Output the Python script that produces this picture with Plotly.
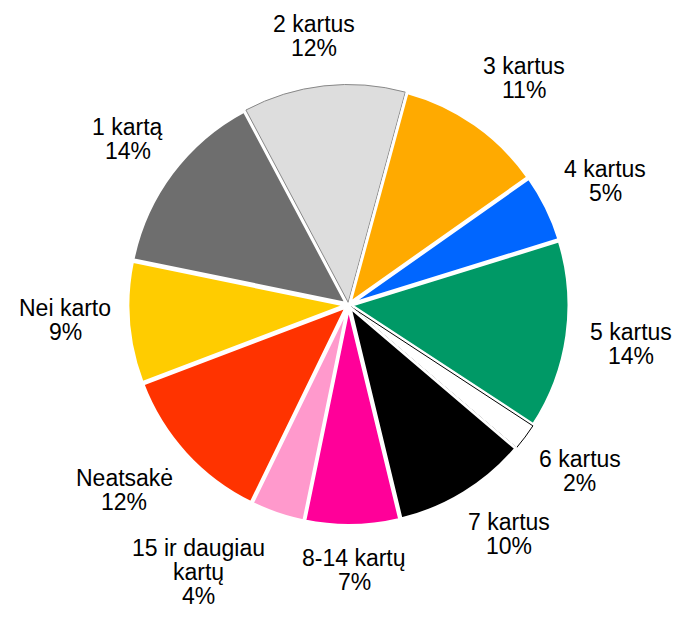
import math
import plotly.graph_objects as go

labels = ["Nei karto", "1 kartą", "2 kartus", "3 kartus", "4 kartus", "5 kartus",
          "6 kartus", "7 kartus", "8-14 kartų", "15 ir daugiau<br>kartų", "Neatsakė"]
values = [9, 14, 12, 11, 5, 14, 2, 10, 7, 4, 12]
colors = ["#FFCC00", "#6E6E6E", "#DDDDDD", "#FFAA00", "#0066FF", "#009966",
          "#FFFFFF", "#000000", "#FF0099", "#FF99CC", "#FF3300"]
line_colors = ["#FFFFFF"] * 11
line_widths = [3] * 11
line_colors[2] = "#888888"; line_widths[2] = 1
line_colors[6] = "#000000"; line_widths[6] = 1

W, H = 675, 622
CX, CY, R = 348.5, 305, 221
PULL = 0.012
ml, mr, mt, mb = CX - R, W - (CX + R), CY - R, H - (CY + R)
ROT = -110.8
FS = 23
LH = 24

fig = go.Figure(go.Pie(
    labels=labels, values=values, sort=False, direction="clockwise",
    rotation=ROT,
    marker=dict(colors=colors, line=dict(color=line_colors, width=line_widths)),
    pull=[PULL] * 11,
    textinfo="none", hoverinfo="label+percent",
    showlegend=False,
))

def px2paper(px, py):
    return (px - ml) / (W - ml - mr), 1 - (py - mt) / (H - mt - mb)

nudge = {"15 ir daugiau<br>kartų": (-38, 3), "1 kartą": (10, 0), "Nei karto": (6, -7),
         "2 kartus": (0, -6), "3 kartus": (0, -6), "4 kartus": (-3, -2),
         "6 kartus": (-5, 0), "Neatsakė": (-3, -2)}
total = sum(values)
cum = 0
annotations = []
for lab, v in zip(labels, values):
    mid = math.radians(ROT + 360 * (cum + v / 2) / total)
    cum += v
    s, c = math.sin(mid), math.cos(mid)
    lines = lab.split("<br>") + [f"{round(100 * v / total)}%"]
    w = max(len(t) for t in lines) * 11
    h = len(lines) * LH
    g = R + 20
    bx = CX + g * s + max(-1, min(1, 1.5 * s)) * w / 2
    by = CY - g * c - max(-1, min(1, 1.5 * c)) * h / 2
    dx, dy = nudge.get(lab, (0, 0))
    bx += dx; by += dy
    for i, t in enumerate(lines):
        ly = by - h / 2 + LH / 2 + i * LH
        xp, yp = px2paper(bx, ly)
        annotations.append(dict(x=xp, y=yp, xref="paper", yref="paper", text=t,
                                showarrow=False, xanchor="center", yanchor="middle",
                                font=dict(family="Liberation Sans, Arial", size=FS, color="#000000")))

fig.update_layout(
    width=W, height=H,
    margin=dict(l=ml, r=mr, t=mt, b=mb, pad=0),
    paper_bgcolor="white", plot_bgcolor="white",
    annotations=annotations,
)
fig.write_html("out.html", config={"displayModeBar": False},
               post_script="document.body.style.margin='0';")
